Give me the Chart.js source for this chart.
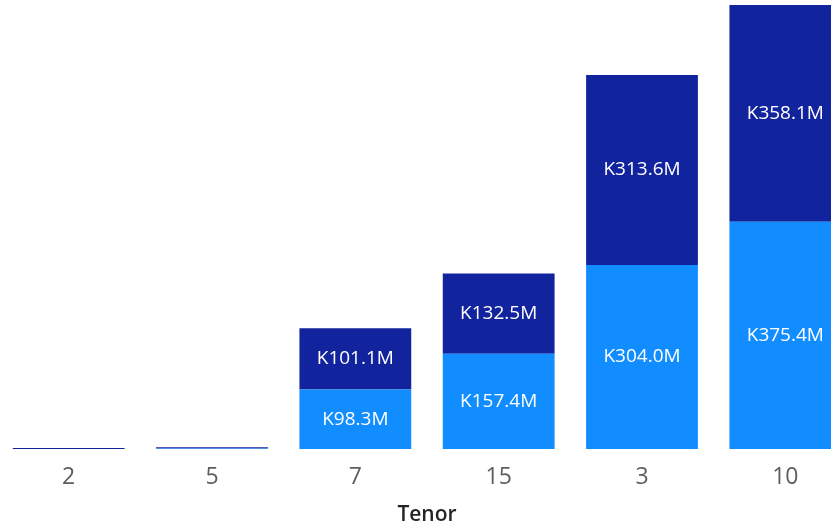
<!DOCTYPE html>
<html>
<head>
<meta charset="utf-8">
<script src="https://cdn.jsdelivr.net/npm/chart.js@4"></script>
<style>
  html, body { margin: 0; padding: 0; background: #fff; overflow: hidden; }
  #wrap { position: absolute; left: -3px; top: 0; width: 860px; height: 529px; }
</style>
</head>
<body>
<div id="wrap"><canvas id="tenorChart"></canvas></div>
<script>
// Tenor categories and values (millions)
const tenors = ['2', '5', '7', '15', '3', '10'];
const lowerValues = [0.0, 1.0, 98.3, 157.4, 304.0, 375.4];
const upperValues = [1.8, 1.8, 101.1, 132.5, 313.6, 358.1];

const darkBlue = '#12239E';
const lightBlue = '#118DFF';

// Simple in-bar value labels
const barLabels = {
    id: 'barLabels',
    afterDatasetsDraw(chart) {
        const ctx = chart.ctx;
        ctx.save();
        ctx.font = '19px "Open Sans", "Noto Sans", sans-serif';
        ctx.fillStyle = '#ffffff';
        ctx.textAlign = 'center';
        ctx.textBaseline = 'middle';
        chart.data.datasets.forEach(function(ds, i) {
            chart.getDatasetMeta(i).data.forEach(function(bar, j) {
                const v = ds.data[j];
                const h = Math.abs(bar.base - bar.y);
                if (h < 20) return;
                ctx.fillText('K' + v.toFixed(1) + 'M', bar.x, (bar.y + bar.base) / 2);
            });
        });
        ctx.restore();
    }
};

new Chart(document.getElementById('tenorChart'), {
    type: 'bar',
    data: {
        labels: tenors,
        datasets: [
            { label: 'Lower', data: lowerValues, backgroundColor: lightBlue, stack: 's' },
            { label: 'Upper', data: upperValues, backgroundColor: darkBlue, stack: 's' }
        ]
    },
    options: {
        responsive: true,
        maintainAspectRatio: false,
        animation: false,
        layout: { padding: { top: 1, left: 0, right: 0, bottom: 0 } },
        categoryPercentage: 0.78,
        barPercentage: 1.0,
        scales: {
            x: {
                stacked: true,
                grid: { display: false, drawTicks: false },
                border: { display: false },
                afterFit: function(scale) { scale.height = 80; },
                ticks: {
                    color: '#605E5C',
                    padding: 17,
                    font: { family: '"Open Sans", "Noto Sans", sans-serif', size: 23, lineHeight: 1.0 }
                },
                title: {
                    display: true,
                    text: 'Tenor',
                    color: '#252423',
                    padding: { top: 0, bottom: 1 },
                    font: { family: '"Open Sans", "Noto Sans", sans-serif', size: 21, weight: '600' }
                }
            },
            y: {
                stacked: true,
                display: false,
                min: 0,
                max: 740
            }
        },
        plugins: {
            legend: { display: false },
            tooltip: { enabled: false }
        }
    },
    plugins: [barLabels]
});
</script>
</body>
</html>
